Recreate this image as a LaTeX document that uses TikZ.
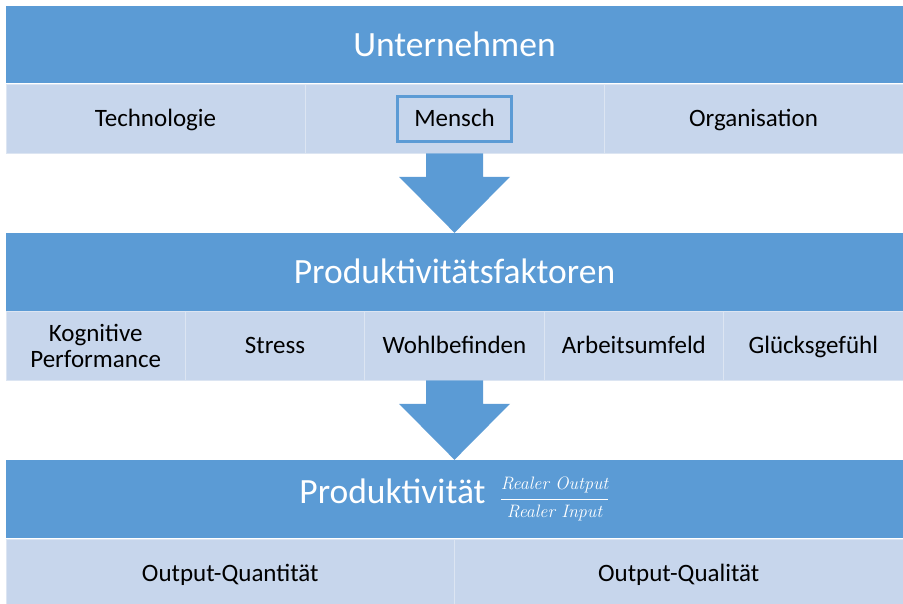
\documentclass[tikz,border=0pt]{standalone}
\usepackage{fontspec}
\setmainfont{Carlito}
\newfontfamily\bruchfont{Latin Modern Roman}
\usetikzlibrary{calc}
\definecolor{blau}{HTML}{5B9BD5}
\definecolor{hell}{HTML}{C7D6EC}
\definecolor{linie}{HTML}{DCE5F2}

\begin{document}
\begin{tikzpicture}[x=1pt,y=-1pt,
    titel/.style={fill=blau,text=white,minimum width=897pt,minimum height=78pt,
      inner sep=0pt,text height=23pt,text depth=0pt,font=\fontsize{35.5}{40}\selectfont},
    zelle/.style={fill=hell,draw=linie,line width=0.8pt,minimum height=69pt,
      inner sep=0pt,align=center,text height=16pt,text depth=0pt,
      font=\fontsize{25}{26}\selectfont}]
  \useasboundingbox (0,0) rectangle (903,603);

  % Ebene 1: Unternehmen
  \node[titel,minimum height=77pt] (unternehmen) at (454.5,44.5) {Unternehmen};
  \node[zelle,minimum width=299pt] (tech) at (155.5,118.5) {Technologie};
  \node[zelle,minimum width=299pt] (mz) at (454.5,118.5) {};
  \node[zelle,draw=blau,line width=3pt,minimum width=114pt,minimum height=45pt] (mensch) at (mz) {Mensch};
  \node[zelle,minimum width=299pt] (org) at (753.5,118.5) {Organisation};

  % Ebene 2: Faktoren
  \node[titel] (faktoren) at (454.5,272) {Produktivitätsfaktoren};
  \node[zelle,minimum width=179.4pt,text height=,text depth=] (kp) at (95.7,345.5) {Kognitive\\Performance};
  \node[zelle,minimum width=179.4pt] (stress) at (275.1,345.5) {Stress};
  \node[zelle,minimum width=179.4pt] (wb) at (454.5,345.5) {Wohlbefinden};
  \node[zelle,minimum width=179.4pt] (au) at (633.9,345.5) {Arbeitsumfeld};
  \node[zelle,minimum width=179.4pt] (gg) at (813.3,345.5) {Glücksgefühl};

  % Ebene 3: Produktivitaet
  \node[titel,text height=,text depth=] (produkt) at (454.5,499) {Produktivität\hspace{14pt}{\bruchfont\fontsize{18}{21}\selectfont
    $\displaystyle\frac{\raisebox{2pt}{\itshape Realer Output}}{\raisebox{-2pt}{\itshape Realer Input}}$}};
  \node[zelle,minimum width=448.5pt] (quant) at (230.25,573.5) {Output-Quantität};
  \node[zelle,minimum width=448.5pt] (qual) at (678.75,573.5) {Output-Qualität};

  % Blockpfeile zwischen den Ebenen
  \foreach \von/\nach in {mz/faktoren,wb/produkt}
    \fill[blau] ($(\von.south)+(-28.5,0)$) -- ($(\von.south)+(28.5,0)$)
      -- ($(\nach.north)+(28.5,-56)$) -- ($(\nach.north)+(55.5,-56)$)
      -- (\nach.north) -- ($(\nach.north)+(-55.5,-56)$)
      -- ($(\nach.north)+(-28.5,-56)$) -- cycle;
\end{tikzpicture}
\end{document}
